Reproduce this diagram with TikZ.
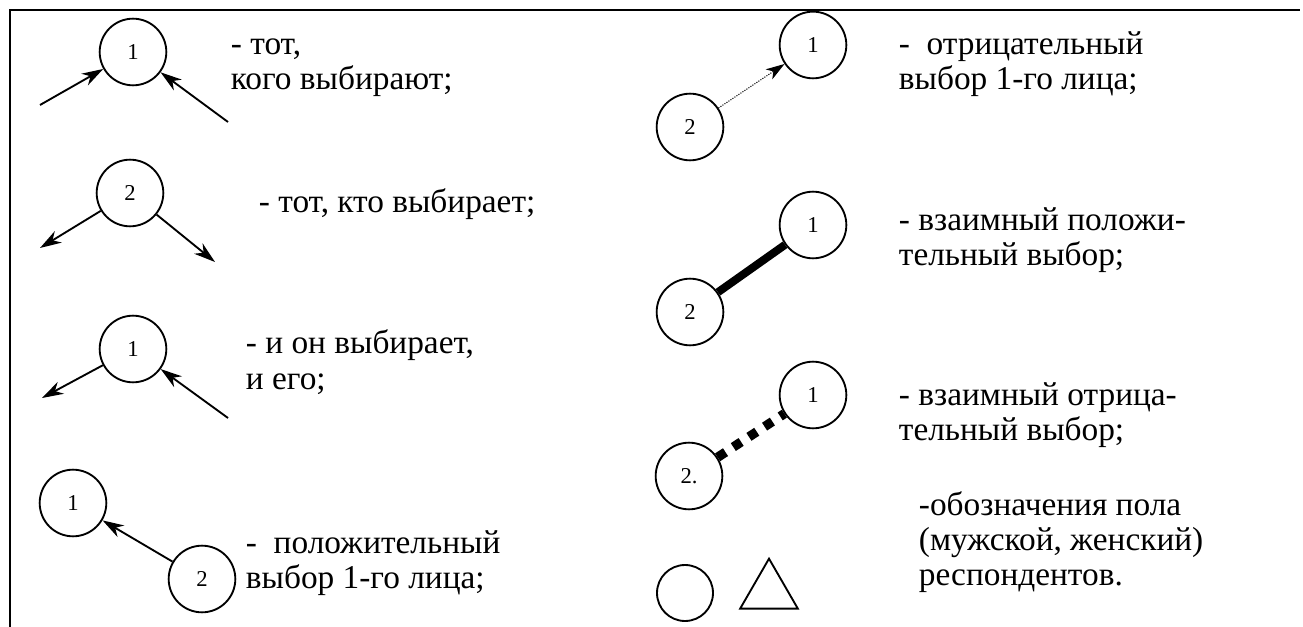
\documentclass[tikz,border=0pt]{standalone}
\usepackage{fontspec}
\setmainfont{Liberation Serif}
\usetikzlibrary{arrows.meta,shapes.geometric}

\begin{document}
\begin{tikzpicture}
  [x=0.75pt,y=-0.75pt,
   every node/.style={circle,draw,line width=1.4pt,minimum size=50pt,inner sep=0pt,font=\fontsize{17}{17}\selectfont},
   txt/.style={rectangle,draw=none,align=left,anchor=west,inner sep=0pt,minimum size=0pt,font=\fontsize{25}{26.5}\selectfont},
   arr/.style={line width=1.4pt,-{Stealth[length=16pt,width=10pt,inset=5pt]}}]
  \useasboundingbox (0,0) rectangle (1303,627);
  \draw[line width=1.3pt] (10,627) -- (10,10) -- (1300,10);

  % left column
  \node (n1) at (133,52)  {1};
  \node (n3) at (130,193) {2};
  \node (n5) at (133,349) {1};
  \node (n7) at (73,503)  {1};
  \node (n8) at (202,579) {2};
  \coordinate (c1) at (40,105);
  \coordinate (c2) at (228,122);
  \coordinate (c3) at (40,248);
  \coordinate (c4) at (215,262);
  \coordinate (c5) at (42,398);
  \coordinate (c6) at (228,418);

  \foreach \from/\to in {c1/n1,c2/n1,n3/c3,n3/c4,n5/c5,c6/n5,n8/n7}
    \draw[arr] (\from) -- (\to);

  \node[txt] (t1) at (230,68)  {- тот,\\кого выбирают;};
  \node[txt] (t2) at (258,204) {- тот, кто выбирает;};
  \node[txt] (t3) at (245,362) {- и он выбирает,\\и его;};
  \node[txt] (t4) at (245,563) {-\ \ положительный\\выбор 1-го лица;};

  % right column
  \node (n9)  at (813,45)  {1};
  \node (n10) at (690,127) {2};
  \node (n11) at (813,225) {1};
  \node (n12) at (690,312) {2};
  \node (n13) at (813,395) {1};
  \node (n14) at (689,476) {2.};
  \node[minimum size=42pt] (n15) at (685,593) {};
  \node[regular polygon,regular polygon sides=3,minimum size=50pt] (n16) at (769,592) {};

  \draw[line width=0.8pt,densely dotted,-{Stealth[length=14pt,width=9pt,inset=4pt]}] (n10) -- (n9);
  \draw[line width=6pt] (n12) -- (n11);
  \draw[line width=7pt,dash pattern=on 7pt off 7pt] (n14) -- (n13);

  \node[txt] (t5) at (898,64)  {-\ \ отрицательный\\выбор 1-го лица;};
  \node[txt] (t6) at (898,240) {- взаимный положи-\\тельный выбор;};
  \node[txt] (t7) at (898,415) {- взаимный отрица-\\тельный выбор;};
  \node[txt] (t8) at (918,542) {-обозначения пола\\(мужской, женский)\\респондентов.};
\end{tikzpicture}
\end{document}
